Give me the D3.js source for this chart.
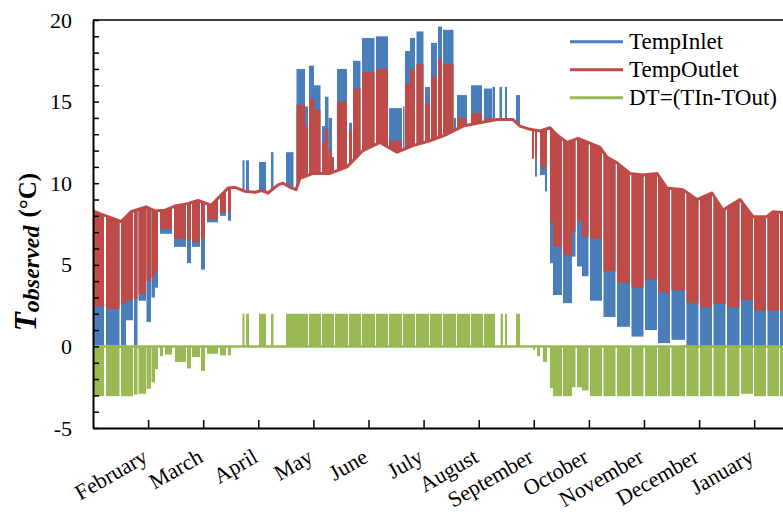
<!DOCTYPE html>
<html><head><meta charset="utf-8">
<script src="https://cdn.jsdelivr.net/npm/d3@7"></script>
<style>
html,body{margin:0;padding:0;background:#fff;}
svg{display:block;font-family:"Liberation Serif","Times New Roman",serif;}
</style></head>
<body><svg id="chart" width="783" height="514"></svg>
<script>
// ---------- data (time in months from the left axis; Feb tick = 1) ----------
const monthLabels = ["February","March","April","May","June","July","August","September","October","November","December","January"];
const monthTicks = [1,2,3,4,5,6,7,8,9,10,11,12];
const yTickLabels = [-5,0,5,10,15,20];
const seriesNames = ["TempInlet","TempOutlet","DT=(TIn-TOut)"];

// TempOutlet base line (°C)
const outletLine = [[0,8.3],[0.145,8.1],[0.272,7.95],[0.399,7.8],[0.508,7.65],[0.690,8.25],[0.962,8.55],[1.125,8.3],[1.307,8.35],[1.488,8.6],[1.724,8.75],[1.906,8.95],[2.142,8.65],[2.305,9.2],[2.450,9.7],[2.577,9.75],[2.759,9.5],[2.940,9.45],[3.067,9.55],[3.176,9.4],[3.358,9.9],[3.448,10.0],[3.575,9.75],[3.684,9.6],[3.757,10.3],[3.993,10.6],[4.301,10.6],[4.610,11.0],[4.900,12.0],[5.209,12.5],[5.517,11.9],[5.808,12.3],[6.116,12.6],[6.425,13.0],[6.715,13.5],[7.024,13.7],[7.332,13.9],[7.623,13.9],[7.750,13.5],[7.931,13.3],[8.113,13.2],[8.294,13.4],[8.421,12.95],[8.603,12.5],[8.802,12.75],[9.020,12.45],[9.201,12.2],[9.328,11.6],[9.510,11.25],[9.746,10.6],[9.982,10.5],[10.236,10.6],[10.417,9.7],[10.708,9.6],[10.962,9.0],[11.234,9.4],[11.434,8.35],[11.742,9.0],[11.978,7.95],[12.232,7.95],[12.341,8.25],[12.523,8.2]];

// TempInlet: periods dipping down to value [start, end, low]
const inletLowBlocks = [[0.009,0.200,0.05],[0.236,0.481,0.05],[0.508,0.599,0.05],[0.599,0.726,1.6],[0.744,0.808,0.05],[0.826,0.962,2.8],[0.971,1.053,1.5],[1.062,1.125,3.0],[1.125,1.180,3.6],[1.216,1.434,6.9],[1.470,1.688,6.1],[1.706,1.779,5.1],[1.797,1.942,6.1],[1.960,2.033,4.7],[2.069,2.269,7.6],[2.305,2.414,8.0],[2.450,2.505,7.7],
  [8.022,8.058,10.4],[8.113,8.203,10.5],[8.203,8.240,9.5],[8.294,8.348,5.1],[8.348,8.512,3.15],[8.530,8.693,2.65],[8.693,8.757,5.5],[8.784,8.875,4.9],[8.875,8.993,4.3],[9.020,9.238,2.8],[9.265,9.483,1.8],[9.510,9.746,1.2],[9.773,9.991,0.6],[10.018,10.236,1.0],[10.254,10.472,0.2],[10.499,10.744,0.4],[10.771,10.989,0.02],[11.016,11.234,0.02],[11.261,11.479,0.02],[11.506,11.733,0.02],[11.760,11.978,0.02],[11.996,12.214,0.02],[12.241,12.450,0.02],[12.468,12.523,0.02]];

// TempInlet: periods rising up to value [start, end, high]
const inletHighBlocks = [[2.713,2.750,11.4],[2.777,2.831,11.4],[3.013,3.140,11.3],[3.230,3.276,11.9],[3.503,3.639,11.9],[3.693,3.848,17.0],[3.848,3.902,14.7],[3.920,4.011,17.2],[4.011,4.129,16.0],[4.156,4.211,13.5],[4.211,4.274,15.3],[4.274,4.338,14.0],[4.428,4.610,17.0],[4.646,4.701,13.7],[4.719,4.855,17.5],[4.882,5.109,18.9],[5.136,5.354,19.0],[5.372,5.608,14.6],[5.626,5.653,14.7],[5.662,5.753,18.1],[5.753,5.844,18.9],[5.871,5.998,19.3],[6.025,6.116,15.9],[6.134,6.243,18.6],[6.261,6.334,19.6],[6.352,6.543,19.4],[6.552,6.588,14.0],[6.606,6.788,15.4],[6.860,7.060,16.0],[7.096,7.241,15.8],[7.250,7.296,15.9],[7.377,7.423,15.9],[7.477,7.514,15.9],[7.677,7.750,15.4]];

// TempOutlet: periods dipping down / rising up
const outletLowBlocks = [[0.009,0.200,2.45],[0.236,0.481,2.3],[0.508,0.599,2.6],[0.599,0.726,2.8],[0.744,0.808,2.9],[0.826,0.962,3.2],[0.971,1.053,4.0],[1.062,1.125,4.2],[1.125,1.180,4.6],[1.216,1.434,7.2],[1.470,1.688,6.6],[1.706,1.779,6.5],[1.797,1.942,6.4],[1.960,2.033,6.6],[2.069,2.269,7.8],[2.305,2.414,8.2],[2.450,2.505,8.2],
  [7.967,8.004,11.5],[8.022,8.058,11.6],[8.113,8.240,11.0],[8.294,8.348,7.6],[8.348,8.512,6.1],[8.530,8.693,5.6],[8.693,8.757,7.0],[8.784,8.875,7.7],[8.875,8.993,6.7],[9.020,9.238,6.6],[9.265,9.483,4.6],[9.510,9.746,3.9],[9.773,9.991,3.6],[10.018,10.236,4.1],[10.254,10.472,3.3],[10.499,10.744,3.45],[10.771,10.989,2.65],[11.016,11.234,2.4],[11.261,11.479,2.6],[11.506,11.733,2.4],[11.760,11.978,2.85],[11.996,12.214,2.2],[12.241,12.450,2.2],[12.468,12.523,2.2]];
const outletHighBlocks = [[3.693,3.848,14.8],[3.848,3.902,13.5],[3.920,4.011,15.2],[4.011,4.129,14.5],[4.156,4.211,12.5],[4.211,4.274,13.3],[4.274,4.338,12.0],[4.338,4.374,11.6],[4.428,4.610,15.0],[4.646,4.701,13.2],[4.719,4.855,15.8],[4.882,5.109,16.8],[5.136,5.354,17.0],[5.372,5.608,12.6],[5.662,5.753,16.1],[5.753,5.844,17.0],[5.871,5.998,17.3],[6.025,6.116,14.9],[6.134,6.243,16.5],[6.261,6.334,17.6],[6.352,6.543,17.3],[6.606,6.788,14.0],[6.860,7.060,14.3],[7.096,7.241,14.0]];

// DT = TIn - TOut : periods [start, end, value]; base line at 0
const dtLine = [[0,0],[12.523,0]];
const dtBlocks = [[0.009,0.200,-3.05],[0.236,0.481,-3.05],[0.508,0.726,-3.05],[0.744,0.808,-2.95],[0.826,0.962,-2.9],[0.971,1.053,-2.6],[1.062,1.125,-2.2],[1.125,1.180,-1.4],[1.216,1.270,-0.6],[1.307,1.434,-0.5],[1.488,1.688,-0.95],[1.706,1.779,-1.35],[1.797,1.942,-0.65],[1.960,2.033,-1.5],[2.069,2.269,-0.45],[2.305,2.414,-0.55],[2.450,2.505,-0.55],
  [2.713,2.750,2],[2.777,2.831,2],[3.013,3.140,2],[3.230,3.276,2],[3.503,3.902,2],[3.920,4.138,2],[4.156,4.374,2],[4.392,4.628,2],[4.646,4.864,2],[4.882,5.118,2],[5.136,5.354,2],[5.372,5.608,2],[5.626,5.844,2],[5.862,6.098,2],[6.116,6.334,2],[6.352,6.588,2],[6.606,6.842,2],[6.860,7.078,2],[7.096,7.296,2],[7.399,7.441,2],[7.477,7.514,2],[7.677,7.750,2],
  [7.985,8.022,-0.2],[8.058,8.113,-0.6],[8.167,8.240,-0.95],[8.294,8.348,-2.55],[8.348,8.512,-3.05],[8.530,8.693,-3.05],[8.693,8.757,-2.5],[8.784,8.875,-2.5],[8.875,8.993,-2.7],[9.020,9.238,-3.05],[9.265,9.483,-3.05],[9.510,9.746,-3.05],[9.773,9.991,-3.05],[10.018,10.236,-3.05],[10.254,10.472,-3.05],[10.499,10.744,-3.05],[10.771,10.989,-3.05],[11.016,11.234,-3.05],[11.261,11.479,-3.05],[11.506,11.733,-3.05],[11.760,11.978,-2.9],[11.996,12.214,-3.05],[12.241,12.450,-3.05],[12.468,12.523,-3.05]];

// ---------- drawing ----------
const colors = {inlet:"#4A7EBB", outlet:"#BE4B48", dt:"#98B954"};
const svg = d3.select("#chart");
const x = d3.scaleLinear().domain([0, 12.523]).range([93, 783]);
const y = d3.scaleLinear().domain([-5, 20]).range([428, 20]);
const [x0, x1] = x.range(), [yb, yt] = y.range();

const defs = svg.append("defs");
defs.append("clipPath").attr("id","plotClip").append("rect")
  .attr("x", x0).attr("y", yt).attr("width", x1 - x0).attr("height", yb - yt);
defs.append("clipPath").attr("id","below").append("path")
  .attr("d", d3.area().x(d => x(d[0])).y0(d => y(d[1])).y1(yb)(outletLine));
defs.append("clipPath").attr("id","above").append("path")
  .attr("d", d3.area().x(d => x(d[0])).y0(d => y(d[1])).y1(yt)(outletLine));

const plot = svg.append("g").attr("clip-path","url(#plotClip)");

function lowBlocks(g, data, color){
  g.append("g").attr("clip-path","url(#below)").selectAll("rect").data(data).join("rect")
    .attr("x", d => x(d[0])).attr("width", d => x(d[1]) - x(d[0]))
    .attr("y", yt).attr("height", d => y(d[2]) - yt).attr("fill", color);
}
function highBlocks(g, data, color){
  g.append("g").attr("clip-path","url(#above)").selectAll("rect").data(data).join("rect")
    .attr("x", d => x(d[0])).attr("width", d => x(d[1]) - x(d[0]))
    .attr("y", d => y(d[2])).attr("height", d => yb - y(d[2])).attr("fill", color);
}
const line = d3.line().x(d => x(d[0])).y(d => y(d[1]));

// TempInlet
const gIn = plot.append("g");
lowBlocks(gIn, inletLowBlocks, colors.inlet);
highBlocks(gIn, inletHighBlocks, colors.inlet);
// TempOutlet
const gOut = plot.append("g");
lowBlocks(gOut, outletLowBlocks, colors.outlet);
highBlocks(gOut, outletHighBlocks, colors.outlet);
gOut.append("path").datum(outletLine).attr("d", line).attr("fill","none")
  .attr("stroke", colors.outlet).attr("stroke-width", 3).attr("stroke-linejoin","round");
// DT
const gDt = plot.append("g");
gDt.selectAll("rect").data(dtBlocks).join("rect")
  .attr("x", d => x(d[0])).attr("width", d => x(d[1]) - x(d[0]))
  .attr("y", d => y(Math.max(0, d[2]))).attr("height", d => Math.abs(y(d[2]) - y(0)))
  .attr("fill", colors.dt);
gDt.append("path").datum(dtLine).attr("d", line).attr("fill","none")
  .attr("stroke", colors.dt).attr("stroke-width", 2.5);

// ---------- axes ----------
const yAxis = d3.axisLeft(y).tickValues(d3.range(-5, 21, 1)).tickSizeInner(-6).tickSizeOuter(0)
  .tickPadding(21).tickFormat(d => yTickLabels.includes(d) ? String(d) : "");
const gy = svg.append("g").attr("transform", `translate(${x0},0)`).call(yAxis);
gy.select(".domain").attr("stroke","#000").attr("stroke-width",2);
gy.selectAll(".tick line").attr("stroke","#000").attr("stroke-width",1.5);
gy.selectAll("text").attr("font-size",22).attr("font-family","Liberation Serif").attr("fill","#000");

const xAxis = d3.axisBottom(x).tickValues(monthTicks).tickSizeInner(-8).tickSizeOuter(0).tickFormat("");
const gx = svg.append("g").attr("transform", `translate(0,${yb})`).call(xAxis);
gx.select(".domain").attr("stroke","#000").attr("stroke-width",2);
gx.selectAll(".tick line").attr("stroke","#000").attr("stroke-width",1.5);

svg.append("line").attr("x1", x0).attr("x2", x1).attr("y1", yt).attr("y2", yt)
  .attr("stroke","#000").attr("stroke-width",1.6);

svg.append("g").selectAll("text").data(monthTicks).join("text")
  .attr("transform", (d) => `translate(${x(d) + 1},${yb + 33}) rotate(-30)`)
  .attr("text-anchor","end").attr("font-size",22).attr("fill","#000")
  .text((d, i) => monthLabels[i]);

// y-axis title
const yl = svg.append("text").attr("transform","translate(36,252) rotate(-90)")
  .attr("text-anchor","middle").attr("fill","#000");
yl.append("tspan").attr("font-size",31).attr("font-weight","bold").attr("font-style","italic").text("T");
yl.append("tspan").attr("font-size",24).attr("font-weight","bold").attr("font-style","italic").attr("dy",3).text("observed");
yl.append("tspan").attr("font-size",25).attr("font-weight","bold").attr("dy",-3).attr("dx",8).text("(°C)");

// ---------- legend ----------
const legendColors = [colors.inlet, colors.outlet, colors.dt];
const lg = svg.append("g").selectAll("g").data(seriesNames).join("g")
  .attr("transform", (d, i) => `translate(570,${41.7 + i * 28})`);
lg.append("line").attr("x1",0).attr("x2",53).attr("y1",0).attr("y2",0)
  .attr("stroke", (d, i) => legendColors[i]).attr("stroke-width",3);
lg.append("text").attr("x",59).attr("y",7.5).attr("font-size",23).attr("fill","#000").text(d => d);
</script>
</body></html>
